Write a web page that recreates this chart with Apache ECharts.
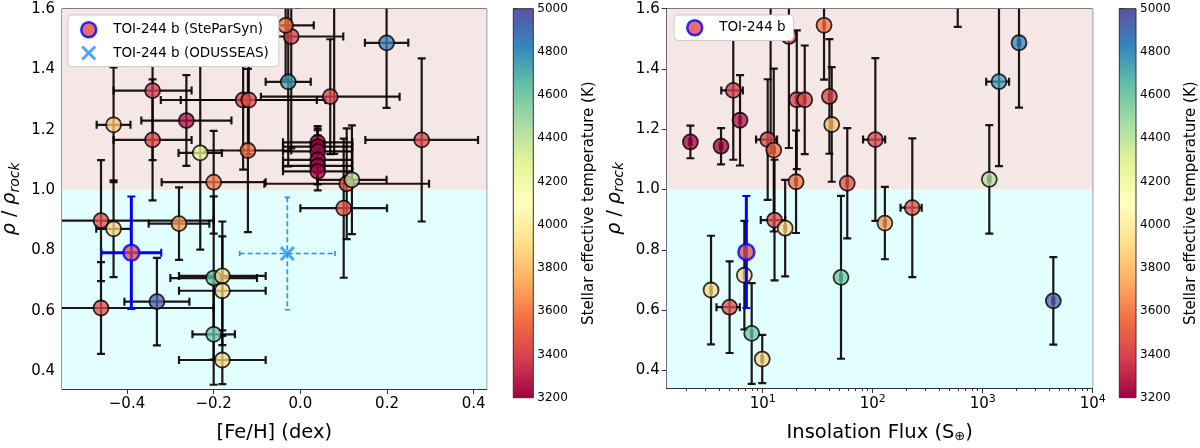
<!DOCTYPE html>
<html><head><meta charset="utf-8">
<script src="https://cdn.jsdelivr.net/npm/echarts@6/dist/echarts.min.js"></script>
<style>html,body{margin:0;padding:0;background:#fff}#c{width:1200px;height:448px}</style>
</head><body><div id="c"></div>
<script>
// ---- data (one entry per planet) ----
const feh     = [0.04,0.04,0.04,0.04,0.04,0.04,-0.341,-0.263,-0.341,-0.121,-0.021,-0.132,-0.119,-0.200,-0.034,0.069,-0.431,0.107,0.280,-0.028,0.199,0.119,0.100,-0.331,-0.280,-0.200,-0.460,-0.431,-0.180,-0.180,-0.460,-0.200,-0.180,-0.231,null,0.078];
const fehErr  = [0.08,0.08,0.08,0.08,0.08,0.08,0.09,0.104,0.09,0.10,0.12,0.19,0.157,0.12,0.065,0.16,0.039,0.19,0.13,0.052,0.05,0.08,0.10,0.075,0.07,0.10,0.26,0.04,0.10,0.10,0.26,0.049,0.10,0.05,null,0.10];
const flux    = [2.2,4.18,1.1,0.65,0.38,0.26,5.4,6.22,11.1,12.6,17.3,20.4,24.1,20.1,36.1,40.4,42.4,58.7,105.7,1406,2138,1148,229,4385,129,51.5,12.8,16.0,6.81,3.39,5.0,7.94,9.9,null,593,11.8];
const fluxErr = [0.05,0.1,0.03,0.02,0.01,0.01,1.2,0.1,2.4,0.3,0.3,0.4,0.4,0.4,0.5,0.6,0.6,1.0,24,330,50,30,50,100,3,1.0,3.2,0.3,0.1,0.05,1.2,0.1,0.2,null,10,0.2];
const rho     = [1.158,1.144,1.128,1.100,1.080,1.062,1.329,1.230,1.166,1.131,1.508,1.298,1.298,1.026,1.545,1.309,1.216,1.021,1.166,1.358,1.487,1.034,0.940,0.631,0.889,0.709,0.899,0.872,0.716,0.667,0.610,0.523,0.438,1.123,1.85,1.90];
const rhoErr  = [0.054,0.06,0.07,0.08,0.06,0.063,0.23,0.15,0.20,0.27,0.37,0.23,0.18,0.17,0.18,0.19,0.19,0.183,0.27,0.28,0.215,0.18,0.23,0.145,0.12,0.27,0.20,0.16,0.18,0.18,0.152,0.167,0.08,0.32,0.31,0.78];
const teff    = [3200,3200,3200,3200,3200,3200,3380,3250,3420,3560,3400,3400,3430,3580,3570,3420,3820,3450,3420,4760,4840,4420,3460,4950,3680,4620,3440,3880,3880,3890,3440,4620,3880,4260,3600,3500];

// TOI-244 b
const toiSteParSyn = {feh: -0.39, fehErr: 0.069, flux: 7.1, fluxErr: 0.2, rho: 0.793, rhoErr: 0.186, teff: 3433};
const toiOdusseas  = {feh: -0.03, fehErr: 0.11, rho: 0.79, rhoErr: 0.186};

// axes / ticks
const fehRange  = [-0.55, 0.43];
const fluxRange = [1.34, 10000];
const rhoRange  = [0.342, 1.6];
const fehTicks  = [-0.4,-0.2,0.0,0.2,0.4];
const rhoTicks  = [0.4,0.6,0.8,1.0,1.2,1.4,1.6];
const fluxTicks = [10,100,1000,10000];
const fluxMinor = [2,3,4,5,6,7,8,9,20,30,40,50,60,70,80,90,200,300,400,500,600,700,800,900,2000,3000,4000,5000,6000,7000,8000,9000];
const teffRange = [3200, 5000];
const teffTick  = 200;
const rockLimit = 1.0;
const spectral = ['#9e0142','#d53e4f','#f46d43','#fdae61','#fee08b','#ffffbf','#e6f598','#abdda4','#66c2a5','#3288bd','#5e4fa2'];

// ---- build ----
const FONT = 'DejaVu Sans';
const leftErr = [], leftPts = [], rightErr = [], rightPts = [];
for (let i = 0; i < rho.length; i++) {
  if (feh[i] !== null) { leftErr.push([feh[i], rho[i], fehErr[i], rhoErr[i]]); leftPts.push([feh[i], rho[i], teff[i]]); }
  if (flux[i] !== null) { rightErr.push([flux[i], rho[i], fluxErr[i], rhoErr[i]]); rightPts.push([flux[i], rho[i], teff[i]]); }
}

function errRender(o) {
  return function (params, api) {
    const x = api.value(0), y = api.value(1), ex = api.value(2), ey = api.value(3);
    const c = api.coord([x, y]);
    const st = {stroke: o.color, lineWidth: o.width, lineDash: o.dash || null, fill: null};
    const cst = {stroke: o.color, lineWidth: o.capWidth || o.width, fill: null};
    const ch = [];
    const seg = (x1, y1, x2, y2, s) => ch.push({type: 'line', shape: {x1, y1, x2, y2}, style: s});
    if (ey > 0) {
      const t = api.coord([x, y + ey])[1], b = api.coord([x, y - ey])[1];
      seg(c[0], t, c[0], b, st);
      seg(c[0] - o.cap, t, c[0] + o.cap, t, cst);
      seg(c[0] - o.cap, b, c[0] + o.cap, b, cst);
    }
    if (ex > 0) {
      const l = api.coord([x - ex, y])[0], r = api.coord([x + ex, y])[0];
      seg(l, c[1], r, c[1], st);
      seg(l, c[1] - o.cap, l, c[1] + o.cap, cst);
      seg(r, c[1] - o.cap, r, c[1] + o.cap, cst);
    }
    return {type: 'group', children: ch};
  };
}
const blackErr = {color: 'rgba(10,3,3,0.92)', width: 2.2, cap: 4};
const blueErr = {color: '#0000ff', width: 3, cap: 4, capWidth: 2};
const dashErr = {color: '#1e90ff', width: 1.6, cap: 2.5, dash: [5, 3]};

const xPath = 'path://M0,2.8 L2.8,0 L10,7.2 L17.2,0 L20,2.8 L12.8,10 L20,17.2 L17.2,20 L10,12.8 L2.8,20 L0,17.2 L7.2,10 Z';
const toiColor = '#e04a4a';

const bands = {
  silent: true,
  data: [
    [{yAxis: rockLimit, itemStyle: {color: '#f6e7e7'}}, {yAxis: rhoRange[1]}],
    [{yAxis: rhoRange[0], itemStyle: {color: '#e2fefe'}}, {yAxis: rockLimit}]
  ]
};

function cbRender(params, api) {
  const p0 = api.coord([0, api.value(1)]), p1 = api.coord([1, api.value(2)]);
  const stops = spectral.map((c, i) => ({offset: i / (spectral.length - 1), color: c}));
  return {type: 'rect', shape: {x: p0[0], y: p1[1], width: p1[0] - p0[0], height: p0[1] - p1[1]},
    style: {fill: new echarts.graphic.LinearGradient(0, 1, 0, 0, stops), stroke: '#333', lineWidth: 1}};
}

const gridTop = 8.7, gridH = 389, gridW = 426;
const tickLbl = {fontSize: 15, color: '#000', fontFamily: FONT};
const axisLineStyle = {show: true, lineStyle: {color: '#333', width: 1}};
const yName = '{i|ρ} / {i|ρ}{s|rock}';
const yNameStyle = {fontSize: 19, color: '#000', fontFamily: FONT,
  rich: {i: {fontSize: 19, fontStyle: 'italic', fontFamily: FONT}, s: {fontSize: 14, fontStyle: 'italic', fontFamily: FONT, padding: [9, 0, 0, 0]}}};
const fmtRho = v => v.toFixed(1);

function mainY(gi) {
  return {gridIndex: gi, type: 'value', min: rhoRange[0], max: rhoRange[1],
    axisLine: axisLineStyle, splitLine: {show: false},
    axisTick: {show: true, customValues: rhoTicks, length: 5, lineStyle: {color: '#333'}},
    axisLabel: {customValues: rhoTicks, formatter: fmtRho, margin: 7, ...tickLbl},
    name: yName, nameLocation: 'middle', nameGap: 40, nameTextStyle: yNameStyle};
}
function cbY(gi) {
  return {gridIndex: gi, type: 'value', min: teffRange[0], max: teffRange[1], interval: teffTick, position: 'right',
    axisLine: {show: false}, splitLine: {show: false},
    axisTick: {show: true, length: 4, lineStyle: {color: '#333'}},
    axisLabel: {fontSize: 12, color: '#000', fontFamily: FONT, margin: 4, formatter: v => String(Math.round(v))},
    name: 'Stellar effective temperature (K)', nameLocation: 'middle', nameGap: 48,
    nameTextStyle: {fontSize: 15, color: '#000', fontFamily: FONT}};
}
function hiddenX(gi) { return {gridIndex: gi, type: 'value', min: 0, max: 1, show: false}; }

const legendBase = {orient: 'vertical', itemGap: 7, itemWidth: 15, itemHeight: 15,
  backgroundColor: '#fff', borderColor: '#cccccc', borderWidth: 1, borderRadius: 4,
  textStyle: {fontSize: 13.5, color: '#000', fontFamily: FONT, padding: [0, 0, 0, 12]}};

const option = {
  animation: false,
  textStyle: {fontFamily: FONT},
  grid: [
    {left: 60.7, top: gridTop, width: gridW, height: gridH, show: true, borderColor: '#333', borderWidth: 1, backgroundColor: 'transparent'},
    {left: 666.7, top: gridTop, width: gridW, height: gridH, show: true, borderColor: '#333', borderWidth: 1, backgroundColor: 'transparent'},
    {left: 513.3, top: gridTop, width: 20, height: gridH},
    {left: 1119.3, top: gridTop, width: 20, height: gridH}
  ],
  xAxis: [
    {gridIndex: 0, type: 'value', min: fehRange[0], max: fehRange[1], axisLine: axisLineStyle, splitLine: {show: false},
     axisTick: {show: true, customValues: fehTicks, length: 5, lineStyle: {color: '#333'}},
     axisLabel: {customValues: fehTicks, formatter: v => (v < -1e-9 ? '\u2212' : '') + Math.abs(v).toFixed(1), margin: 8, ...tickLbl},
     name: '[Fe/H] (dex)', nameLocation: 'middle', nameGap: 34, nameTextStyle: {fontSize: 19.5, color: '#000', fontFamily: FONT}},
    {gridIndex: 1, type: 'log', logBase: 10, min: fluxRange[0], max: fluxRange[1], axisLine: axisLineStyle, splitLine: {show: false},
     axisTick: {show: true, customValues: fluxTicks, length: 5, lineStyle: {color: '#333'}},
     axisLabel: {customValues: fluxTicks, margin: 6, formatter: v => '10{sup|' + Math.round(Math.log10(v)) + '}', ...tickLbl,
       rich: {sup: {fontSize: 11, fontFamily: FONT, color: '#000', padding: [0, 0, 9, 0]}}},
     name: 'Insolation Flux (S{sub|\u2295})', nameLocation: 'middle', nameGap: 34,
     nameTextStyle: {fontSize: 19.5, color: '#000', fontFamily: FONT, rich: {sub: {fontSize: 13, fontFamily: FONT, color: '#000', padding: [8, 0, 0, 0]}}}},
    hiddenX(2), hiddenX(3),
    {gridIndex: 1, type: 'log', logBase: 10, min: fluxRange[0], max: fluxRange[1], position: 'bottom',
     axisLine: {show: false}, splitLine: {show: false}, axisLabel: {show: false},
     axisTick: {show: true, customValues: fluxMinor, length: 3, lineStyle: {color: '#333'}}}
  ],
  yAxis: [mainY(0), mainY(1), cbY(2), cbY(3)],
  visualMap: [{type: 'continuous', show: false, min: teffRange[0], max: teffRange[1], dimension: 2, seriesIndex: [1, 5, 7, 9],
    inRange: {color: spectral, colorAlpha: [0.93, 0.93]}}],
  legend: [
    Object.assign({left: 68, top: 15, padding: [6, 10, 6, 12],
     data: [{name: 'TOI-244 b (SteParSyn)', icon: 'circle', itemStyle: {color: toiColor, borderColor: '#0000ff', borderWidth: 2.5}},
            {name: 'TOI-244 b (ODUSSEAS)', icon: xPath, itemStyle: {color: '#1e90ff'}}]}, legendBase),
    Object.assign({left: 674, top: 15, padding: [4, 8, 4, 12],
     data: [{name: 'TOI-244 b', icon: 'circle', itemStyle: {color: toiColor, borderColor: '#0000ff', borderWidth: 2.5}}]}, legendBase)
  ],
  series: [
    {type: 'custom', xAxisIndex: 0, yAxisIndex: 0, clip: true, renderItem: errRender(blackErr), data: leftErr, encode: {x: 0, y: 1}, z: 2, silent: true},
    {type: 'scatter', xAxisIndex: 0, yAxisIndex: 0, data: leftPts, symbolSize: 15, clip: true, z: 3,
     itemStyle: {borderColor: '#000', borderWidth: 1.8}, markArea: bands},
    {type: 'custom', xAxisIndex: 0, yAxisIndex: 0, clip: true, renderItem: errRender(dashErr), z: 4,
     data: [[toiOdusseas.feh, toiOdusseas.rho, toiOdusseas.fehErr, toiOdusseas.rhoErr]], encode: {x: 0, y: 1}},
    {type: 'scatter', name: 'TOI-244 b (ODUSSEAS)', xAxisIndex: 0, yAxisIndex: 0, symbol: xPath, symbolSize: 15, z: 5,
     itemStyle: {color: '#1e90ff'}, data: [[toiOdusseas.feh, toiOdusseas.rho]]},
    {type: 'custom', xAxisIndex: 0, yAxisIndex: 0, clip: true, renderItem: errRender(blueErr), z: 4,
     data: [[toiSteParSyn.feh, toiSteParSyn.rho, toiSteParSyn.fehErr, toiSteParSyn.rhoErr]], encode: {x: 0, y: 1}},
    {type: 'scatter', name: 'TOI-244 b (SteParSyn)', xAxisIndex: 0, yAxisIndex: 0, symbolSize: 16, z: 5,
     itemStyle: {color: toiColor, borderColor: '#0000ff', borderWidth: 2.5}, data: [[toiSteParSyn.feh, toiSteParSyn.rho, toiSteParSyn.teff]]},
    {type: 'custom', xAxisIndex: 1, yAxisIndex: 1, clip: true, renderItem: errRender(blackErr), data: rightErr, encode: {x: 0, y: 1}, z: 2, silent: true},
    {type: 'scatter', xAxisIndex: 1, yAxisIndex: 1, data: rightPts, symbolSize: 15, clip: true, z: 3,
     itemStyle: {borderColor: '#000', borderWidth: 1.8}, markArea: bands},
    {type: 'custom', xAxisIndex: 1, yAxisIndex: 1, clip: true, renderItem: errRender(blueErr), z: 4,
     data: [[toiSteParSyn.flux, toiSteParSyn.rho, 0, toiSteParSyn.rhoErr]], encode: {x: 0, y: 1}},
    {type: 'scatter', name: 'TOI-244 b', xAxisIndex: 1, yAxisIndex: 1, symbolSize: 16, z: 5,
     itemStyle: {color: toiColor, borderColor: '#0000ff', borderWidth: 2.5}, data: [[toiSteParSyn.flux, toiSteParSyn.rho, toiSteParSyn.teff]]},
    {type: 'custom', xAxisIndex: 2, yAxisIndex: 2, renderItem: cbRender, data: [[0, teffRange[0], teffRange[1]]], encode: {x: 0, y: [1, 2]}, silent: true},
    {type: 'custom', xAxisIndex: 3, yAxisIndex: 3, renderItem: cbRender, data: [[0, teffRange[0], teffRange[1]]], encode: {x: 0, y: [1, 2]}, silent: true}
  ]
};
const chart = echarts.init(document.getElementById('c'), null, {renderer: 'canvas'});
chart.setOption(option);
</script>
</body></html>
